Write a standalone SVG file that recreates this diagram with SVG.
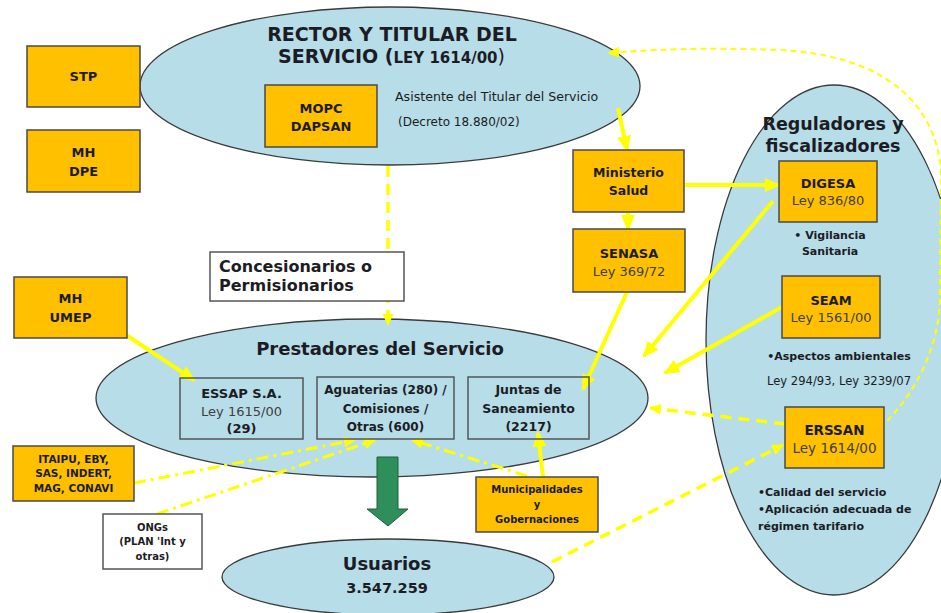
<svg xmlns="http://www.w3.org/2000/svg" width="941" height="613" viewBox="0 0 941 613">
<style>
.ell{fill:#B7DDE8;stroke:#3a3a3a;stroke-width:1.3}
.box{fill:#FFC000;stroke:#4a4a4a;stroke-width:1.5}
.ibox{fill:none;stroke:#555;stroke-width:1.5}
.wbox{fill:#fff;stroke:#555;stroke-width:1.5}
text{font-family:"DejaVu Sans",Verdana,sans-serif;fill:#1c1c24}
.b{font-weight:bold}
.m{text-anchor:middle}
.n{font-weight:normal;fill:#404040}
.sol{fill:none;stroke:#FFFF00;stroke-width:4}
.dash{fill:none;stroke:#FFFF00;stroke-width:3.5;stroke-dasharray:11 7}
.dot{fill:none;stroke:#FFFF00;stroke-width:2;stroke-dasharray:6 4}
.dd{fill:none;stroke:#FFFF00;stroke-width:3;stroke-dasharray:12 5 3 5}
</style>
<defs>
<marker id="ah" markerUnits="userSpaceOnUse" markerWidth="16" markerHeight="14" refX="14" refY="7" orient="auto"><path d="M0,0 L16,7 L0,14 z" fill="#FFFF00"/></marker>
<marker id="as" markerUnits="userSpaceOnUse" markerWidth="12" markerHeight="11" refX="11" refY="5.5" orient="auto"><path d="M0,0 L12,5.5 L0,11 z" fill="#FFFF00"/></marker>
</defs>

<g id="rector">
<ellipse class="ell" cx="390" cy="86" rx="250" ry="79"/>
<text class="b m" x="392" y="41" font-size="19">RECTOR Y TITULAR DEL</text>
<text class="b" x="278" y="63" font-size="19">SERVICIO (<tspan font-size="15">LEY 1614/00</tspan><tspan font-weight="normal">)</tspan></text>
<text x="395" y="101" font-size="12.6" fill="#222">Asistente del Titular del Servicio</text>
<text x="398" y="126" font-size="12" fill="#222">(Decreto 18.880/02)</text>
</g>
<g id="reguladores">
<ellipse class="ell" cx="834" cy="340" rx="128" ry="255"/>
<text class="b m" x="833" y="130" font-size="17.5">Reguladores y</text>
<text class="b m" x="833" y="152" font-size="17.5">fiscalizadores</text>
<text class="b m" x="830" y="239" font-size="11">• Vigilancia</text>
<text class="b m" x="830" y="255" font-size="11">Sanitaria</text>
<text class="b m" x="839" y="360" font-size="11">•Aspectos ambientales</text>
<text class="m" x="839" y="385" font-size="11.6" fill="#333">Ley 294/93, Ley 3239/07</text>
<text class="b" x="758" y="496" font-size="11">•Calidad del servicio</text>
<text class="b" x="758" y="513" font-size="11">•Aplicación adecuada de</text>
<text class="b" x="758" y="530" font-size="11">régimen tarifario</text>
</g>
<g id="prestadores">
<ellipse class="ell" cx="372" cy="398" rx="276" ry="79"/>
<text class="b m" x="380" y="355" font-size="18">Prestadores del Servicio</text>
</g>
<g id="usuarios">
<ellipse class="ell" cx="388" cy="577" rx="166" ry="38"/>
<text class="b m" x="387" y="570" font-size="18">Usuarios</text>
<text class="b m" x="387" y="593" font-size="14.5">3.547.259</text>
</g>

<g id="connectors">
<path class="sol" d="M120 331 L194 380" marker-end="url(#ah)"/>
<path class="sol" d="M618 108 L627 150" marker-end="url(#ah)"/>
<path class="sol" d="M628 212 L628 229" marker-end="url(#ah)"/>
<path class="sol" d="M685 185 L779 185" marker-end="url(#ah)"/>
<path class="sol" d="M773 201 L644 356" marker-end="url(#ah)"/>
<path class="sol" d="M627 292 L583 389" marker-end="url(#ah)"/>
<path class="sol" d="M782 307 L665 373" marker-end="url(#ah)"/>
<path class="sol" d="M543 477 L538 433" marker-end="url(#ah)"/>
<path class="dash" d="M388 166 L388 325" marker-end="url(#as)"/>
<path class="dash" d="M785 424 L650 408" marker-end="url(#as)"/>
<path class="dash" d="M552 562 L783 445" marker-end="url(#as)"/>
<path class="dot" d="M880 428 C915 395 938 350 940 300 L941 170 C935 100 880 55 780 50 C700 47 650 50 608 53" marker-end="url(#as)"/>
<path class="dd" d="M134 483 L355 440" marker-end="url(#as)"/>
<path class="dd" d="M157 514 L375 440" marker-end="url(#as)"/>
<path class="dd" d="M527 476 L412 440" marker-end="url(#as)"/>
<path d="M377 457 L398 457 L398 509 L408 509 L388 526 L367 509 L377 509 Z" fill="#2E8F5A" stroke="#1f5f3a" stroke-width="1"/>
</g>

<g id="stp"><rect class="box" x="27" y="46" width="113" height="61"/><text class="b m" x="83.5" y="81" font-size="13">STP</text></g>
<g id="mh-dpe"><rect class="box" x="27" y="130" width="113" height="62"/><text class="b m" x="83.5" y="157" font-size="13">MH</text><text class="b m" x="83.5" y="176" font-size="13">DPE</text></g>
<g id="mopc"><rect class="box" x="265" y="85" width="112" height="62"/><text class="b m" x="321" y="113" font-size="13">MOPC</text><text class="b m" x="321" y="131" font-size="13">DAPSAN</text></g>
<g id="mh-umep"><rect class="box" x="14" y="277" width="113" height="61"/><text class="b m" x="70.5" y="303" font-size="13">MH</text><text class="b m" x="70.5" y="322" font-size="13">UMEP</text></g>
<g id="ministerio"><rect class="box" x="573" y="150" width="111" height="62"/><text class="b m" x="628.5" y="177" font-size="12.5">Ministerio</text><text class="b m" x="628.5" y="195" font-size="12.5">Salud</text></g>
<g id="senasa"><rect class="box" x="573" y="229" width="112" height="63"/><text class="b m" x="629" y="258" font-size="13">SENASA</text><text class="n m" x="629" y="276" font-size="13">Ley 369/72</text></g>
<g id="digesa"><rect class="box" x="779" y="161" width="98" height="61"/><text class="b m" x="828" y="188" font-size="13">DIGESA</text><text class="n m" x="828" y="205" font-size="13">Ley 836/80</text></g>
<g id="seam"><rect class="box" x="782" y="276" width="98" height="62"/><text class="b m" x="831" y="305" font-size="13">SEAM</text><text class="n m" x="831" y="322" font-size="13">Ley 1561/00</text></g>
<g id="erssan"><rect class="box" x="785" y="407" width="99" height="61"/><text class="b m" x="834.5" y="435" font-size="13.5">ERSSAN</text><text class="n m" x="834.5" y="453" font-size="13.5">Ley 1614/00</text></g>
<g id="concesionarios"><rect class="wbox" x="210" y="252" width="194" height="49"/><text class="b" x="219" y="272" font-size="16">Concesionarios o</text><text class="b" x="219" y="291" font-size="16">Permisionarios</text></g>
<g id="essap"><rect class="ibox" x="180" y="378" width="123" height="61"/><text class="b m" x="241.5" y="398" font-size="13">ESSAP S.A.</text><text class="n m" x="241.5" y="416" font-size="13">Ley 1615/00</text><text class="b m" x="241.5" y="433" font-size="13">(29)</text></g>
<g id="aguaterias"><rect class="ibox" x="317" y="377" width="137" height="62"/><text class="b m" x="385.5" y="394" font-size="12">Aguaterias (280) /</text><text class="b m" x="385.5" y="413" font-size="12">Comisiones /</text><text class="b m" x="385.5" y="431" font-size="12">Otras (600)</text></g>
<g id="juntas"><rect class="ibox" x="468" y="377" width="121" height="62"/><text class="b m" x="528.5" y="394" font-size="12.5">Juntas de</text><text class="b m" x="528.5" y="413" font-size="12.5">Saneamiento</text><text class="b m" x="528.5" y="431" font-size="12.5">(2217)</text></g>
<g id="itaipu"><rect class="box" x="13" y="446" width="121" height="55"/><text class="b m" x="73.5" y="463" font-size="10.5">ITAIPU, EBY,</text><text class="b m" x="73.5" y="477" font-size="10.5">SAS, INDERT,</text><text class="b m" x="73.5" y="492" font-size="10.5">MAG, CONAVI</text></g>
<g id="ongs"><rect class="wbox" x="103" y="514" width="99" height="55"/><text class="b m" x="152.5" y="531" font-size="10" fill="#333">ONGs</text><text class="b m" x="152.5" y="545" font-size="10" fill="#333">(PLAN 'Int y</text><text class="b m" x="152.5" y="560" font-size="10" fill="#333">otras)</text></g>
<g id="municipalidades"><rect class="box" x="476" y="477" width="122" height="55"/><text class="b m" x="537" y="493" font-size="10">Municipalidades</text><text class="b m" x="537" y="508" font-size="10">y</text><text class="b m" x="537" y="523" font-size="10">Gobernaciones</text></g>
</svg>
